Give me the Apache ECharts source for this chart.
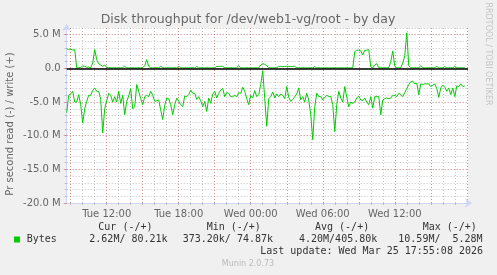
<!DOCTYPE html>
<html><head><meta charset="utf-8">
<script src="https://cdn.jsdelivr.net/npm/echarts@6/dist/echarts.min.js"></script>
<style>html,body{margin:0;padding:0;background:#F0F0F0}#c{width:497px;height:275px}</style>
</head><body><div id="c"></div>
<script>
// ---- data ----
const chartTitle = 'Disk throughput for /dev/web1-vg/root - by day';
const yAxisTitle = 'Pr second read (-) / write (+)';
// sample times: hours since Tue 00:00, one sample every 10 minutes from Tue 08:40
const startHour = 8 + 40 / 60;
const stepHours = 10 / 60;
// read (MB/s, drawn negative)
const readM = [
  6.6,4.0,3.8,3.4,5.0,5.0,3.9,5.4,8.1,6.0,4.9,4.0,4.0,3.3,2.9,3.4,3.4,4.6,9.6,6.0,4.8,3.7,4.0,5.0,4.2,5.0,3.4,5.2,4.0,6.9,4.9,4.1,3.0,6.0,5.7,2.4,3.4,
  4.5,5.4,4.2,4.0,4.2,3.4,4.0,4.9,4.8,4.7,6.2,7.6,5.5,4.4,4.5,5.4,6.9,5.4,4.4,4.9,5.4,5.7,4.1,4.2,3.9,3.2,3.7,3.7,4.6,4.2,4.8,5.7,4.9,6.4,4.4,5.2,3.8,3.4,4.4,3.7,3.2,
  3.0,4.2,3.6,3.7,4.2,4.2,4.0,4.2,3.6,3.7,2.8,3.4,4.5,5.4,4.0,4.4,3.3,4.2,3.9,2.4,0.37,4.5,8.6,4.5,4.2,3.5,4.4,3.8,4.2,3.8,4.0,4.5,2.7,4.3,4.9,4.6,4.2,3.8,
  2.9,4.7,4.2,5.0,3.7,4.7,6.9,10.59,5.7,3.7,4.2,4.2,4.7,4.3,4.0,4.2,4.2,5.4,9.4,5.4,3.4,4.4,5.0,2.7,4.3,5.7,5.0,5.2,5.0,4.4,4.1,4.7,4.8,4.4,5.0,5.4,4.2,5.9,4.2,4.2,
  4.2,6.9,4.7,4.5,4.4,4.5,4.4,4.0,4.0,4.2,3.7,3.9,4.2,3.6,3.0,2.4,2.0,1.9,2.3,2.2,3.9,2.3,2.4,2.3,2.3,2.3,2.7,2.5,2.3,3.0,4.3,2.9,2.5,2.8,3.4,2.9,3.9,2.9,4.2,2.6,2.7,2.3,2.7,2.62
];
// write (MB/s, drawn positive)
const writeM = [
  2.9,2.8,2.9,2.7,2.8, 0.1,0.1,0.15,0.35,0.3, 0.15,0.2,0.1,0.8,2.8, 1.3,0.7,0.5,0.3,0.5,
  0.15,0.1,0.1,0.08,0.1, 0.08,0.1,0.08,0.1,0.3, 0.1,0.08,0.08,0.1,0.08, 0.08,0.1,0.08,0.1,0.4,
  1.3,0.3,0.1,0.08,0.08, 0.1,0.08,0.3,0.1,0.08, 0.08,0.1,0.08,0.08,0.1, 0.08,0.3,0.1,0.08,0.08,
  0.1,0.08,0.08,0.1,0.08, 0.3,0.08,0.1,0.08,0.08, 0.1,0.08,0.08,0.1,0.08, 0.3,0.3,0.3,0.3,0.1,
  0.08,0.08,0.1,0.08,0.08, 0.08,0.4,0.1,0.08,0.08, 0.1,0.08,0.08,0.08,0.1, 0.08,0.08,0.5,0.7,0.6,
  0.4,0.1,0.08,0.08,0.08, 0.1,0.3,0.3,0.25,0.3, 0.3,0.3,0.25,0.3,0.3, 0.1,0.08,0.08,0.1,0.08,
  0.08,0.1,0.08,0.08,0.25, 0.08,0.1,0.08,0.08,0.08, 0.1,0.08,0.08,0.1,0.08, 0.08,0.08,0.1,0.08,0.08,
  0.1,0.08,0.08,0.1,2.5, 2.7,2.7,2.6,2.0,2.7, 2.7,2.8,0.2,0.1,0.5, 0.7,0.1,0.08,0.08,0.1,
  0.08,0.1,1.0,2.6,0.3, 0.1,0.08,0.1,0.8,1.9, 5.28,0.4,0.1,0.08,0.1, 0.08,0.1,0.4,0.1,0.08,
  0.08,0.1,0.08,0.08,0.1, 0.3,0.08,0.08,0.1,0.25, 0.08,0.08,0.1,0.08,0.3, 0.1,0.08,0.1,0.08,0.08
];
const xLabelHours = [12, 18, 24, 30, 36];
const xLabelTexts = ['Tue 12:00', 'Tue 18:00', 'Wed 00:00', 'Wed 06:00', 'Wed 12:00'];
const yMajor = [-20, -15, -10, -5, 0, 5];
const yMajorLabels = ['-20.0 M', '-15.0 M', '-10.0 M', '-5.0 M', '0.0', '5.0 M'];
const legendName = 'Bytes';
const legendHeads = ['Cur (-/+)', 'Min (-/+)', 'Avg (-/+)', 'Max (-/+)'];
const legendVals = ['2.62M/ 80.21k', '373.20k/ 74.87k', '4.20M/405.80k', '10.59M/  5.28M'];
const lastUpdate = 'Last update: Wed Mar 25 17:55:08 2026';
const muninVersion = 'Munin 2.0.73';
const watermark = 'RRDTOOL / TOBI OETIKER';

// ---- build ----
const X_MIN = 8 + 40 / 60, X_MAX = 42.1, Y_MIN = -20, Y_MAX = 6;
const hourTicks = [], majorHourTicks = [];
for (let h = Math.ceil(X_MIN); h <= X_MAX; h++) { hourTicks.push(h); if (h % 3 === 0) majorHourTicks.push(h); }
const readData = readM.map((v, i) => [startHour + i * stepHours, -v]);
const writeData = writeM.map((v, i) => [startHour + i * stepHours, v]);

const GRAY = 'rgba(140,140,140,0.5)';
const RED = 'rgba(224,80,80,0.45)';
const AXIS = '#CFD6F8';
const FONT = '#666666';
const SANS = 'DejaVu Sans';
const MONO = 'DejaVu Sans Mono';

const chart = echarts.init(document.getElementById('c'), null, {renderer: 'canvas'});
const legendX = [98.3, 206.7, 315, 422.7];
const valX = [89.3, 182.7, 299, 398.3];
const graphics = [
  {type: 'text', x: 248, y: 20, style: {text: chartTitle, font: '12.5px ' + SANS, fill: FONT, align: 'center', verticalAlign: 'middle'}},
  {type: 'text', x: 10, y: 124, rotation: Math.PI / 2, style: {text: yAxisTitle, font: '10px ' + SANS, fill: FONT, align: 'center', verticalAlign: 'middle'}},
  {type: 'text', x: 488, y: 54, rotation: -Math.PI / 2, style: {text: watermark, font: '8px ' + SANS, fill: '#c4c4c4', align: 'center', verticalAlign: 'middle'}},
  {type: 'rect', shape: {x: 14, y: 236.5, width: 6, height: 6}, style: {fill: '#00CC00'}},
  {type: 'text', x: 26.7, y: 239.5, style: {text: legendName, font: '10px ' + MONO, fill: '#333', verticalAlign: 'middle'}},
  {type: 'text', x: 483, y: 251.7, style: {text: lastUpdate, font: '10px ' + MONO, fill: '#333', align: 'right', verticalAlign: 'middle'}},
  {type: 'text', x: 248, y: 264, style: {text: muninVersion, font: '8px ' + SANS, fill: '#bbbbbb', align: 'center', verticalAlign: 'middle'}}
];
legendHeads.forEach((t, i) => graphics.push({type: 'text', x: legendX[i], y: 227.3, style: {text: t, font: '10px ' + MONO, fill: '#333', verticalAlign: 'middle'}}));
legendVals.forEach((t, i) => graphics.push({type: 'text', x: valX[i], y: 239.5, style: {text: t, font: '10px ' + MONO, fill: '#333', verticalAlign: 'middle'}}));

chart.setOption({
  animation: false,
  backgroundColor: '#F0F0F0',
  grid: {left: 66.7, right: 29, top: 28, bottom: 72, show: true, backgroundColor: '#FFFFFF', borderWidth: 0},
  xAxis: [
    {type: 'value', min: X_MIN, max: X_MAX, position: 'bottom',
     axisLine: {show: true, onZero: false, lineStyle: {color: AXIS}, symbol: ['none', 'arrow'], symbolSize: [7, 7], symbolOffset: [0, 4]},
     axisTick: {show: true, customValues: hourTicks, length: 2, lineStyle: {color: GRAY}},
     axisLabel: {show: false},
     splitLine: {show: true, lineStyle: {color: GRAY, type: [1, 2]}}},
    {type: 'value', min: X_MIN, max: X_MAX, position: 'bottom',
     axisLine: {show: false},
     axisTick: {show: true, customValues: majorHourTicks, length: 2, lineStyle: {color: RED}},
     axisLabel: {show: true, customValues: xLabelHours, margin: 6, color: FONT, fontFamily: SANS, fontSize: 10,
       formatter: v => xLabelTexts[xLabelHours.indexOf(Math.round(v))] || ''},
     splitLine: {show: true, lineStyle: {color: RED, type: [1, 2]}}}
  ],
  yAxis: [
    {type: 'value', min: Y_MIN, max: Y_MAX, interval: 1, position: 'left',
     axisLine: {show: true, onZero: false, lineStyle: {color: AXIS}, symbol: ['none', 'arrow'], symbolSize: [7, 7], symbolOffset: [0, 4]},
     axisTick: {show: true, length: 2, lineStyle: {color: GRAY}},
     axisLabel: {show: false},
     splitLine: {show: true, lineStyle: {color: GRAY, type: [1, 2]}}},
    {type: 'value', min: Y_MIN, max: Y_MAX, position: 'left',
     axisLine: {show: false},
     axisTick: {show: true, customValues: yMajor, length: 3, lineStyle: {color: RED}},
     axisLabel: {show: true, customValues: yMajor, margin: 6, color: FONT, fontFamily: SANS, fontSize: 10,
       formatter: v => yMajorLabels[yMajor.indexOf(Math.round(v))] || ''},
     splitLine: {show: true, lineStyle: {color: RED, type: [1, 2]}}}
  ],
  series: [
    {type: 'line', name: 'read', data: readData, xAxisIndex: 0, yAxisIndex: 0, showSymbol: false, symbol: 'none',
     lineStyle: {color: '#00CC00', width: 1}, z: 3},
    {type: 'line', name: 'write', data: writeData, xAxisIndex: 0, yAxisIndex: 0, showSymbol: false, symbol: 'none',
     lineStyle: {color: '#00CC00', width: 1}, z: 3,
     markLine: {silent: true, symbol: 'none', label: {show: false}, animation: false,
       lineStyle: {color: '#000000', width: 1.5, type: 'solid'}, data: [{yAxis: 0}]}}
  ],
  graphic: graphics
});
</script>
</body></html>
